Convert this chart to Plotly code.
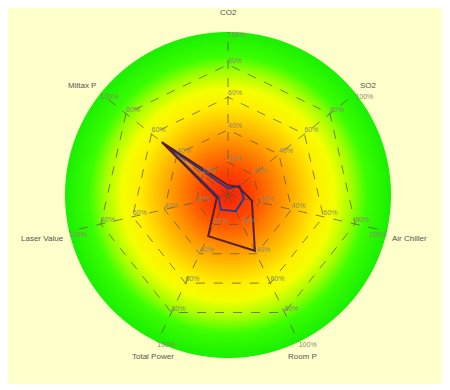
import base64, struct, zlib
import numpy as np
import plotly.graph_objects as go

# ---------------- data ----------------
axes_labels = ["CO2", "SO2", "Air Chiller", "Room P", "Total Power", "Laser Value", "Miltax P"]
series_a = [0.06, 0.08, 0.15, 0.38, 0.28, 0.07, 0.52]   # dark red-brown
series_b = [0.04, 0.09, 0.10, 0.11, 0.10, 0.06, 0.49]   # navy blue
tick_values = [0.2, 0.4, 0.6, 0.8, 1.0]
tick_labels = ["20%", "40%", "60%", "80%", "100%"]

# ---------------- layout geometry ----------------
W, H = 435, 376
L, T, S = 57, 24, 326
R_M = W - L - S
B_M = H - T - S

# ---------------- background image (radial gradient disc) ----------------
def make_png(rgb):
    h, w, _ = rgb.shape
    raw = b"".join(b"\x00" + rgb[y].tobytes() for y in range(h))
    def chunk(tag, data):
        c = struct.pack(">I", len(data)) + tag + data
        return c + struct.pack(">I", zlib.crc32(tag + data) & 0xFFFFFFFF)
    png = b"\x89PNG\r\n\x1a\n"
    png += chunk(b"IHDR", struct.pack(">IIBBBBB", w, h, 8, 2, 0, 0, 0))
    png += chunk(b"IDAT", zlib.compress(raw, 9))
    png += chunk(b"IEND", b"")
    return "data:image/png;base64," + base64.b64encode(png).decode()

yy, xx = np.mgrid[0:H, 0:W].astype(float)
yellow = np.array([255, 255, 204], float)
img = np.empty((H, W, 3), float)
img[:] = yellow

cx, cy, rad = L + S / 2, T + S / 2, S / 2
d = np.sqrt((xx + 0.5 - cx) ** 2 + (yy + 0.5 - cy) ** 2)
f = np.clip(d / rad, 0, 1)
stops = [0.0, 0.15, 0.3, 0.45, 0.55, 0.65, 0.75, 0.85, 1.0]
cols = np.array([
    [250, 30, 10], [255, 70, 0], [255, 135, 0], [255, 200, 0], [255, 240, 0],
    [245, 255, 0], [170, 255, 0], [60, 255, 0], [25, 240, 0]], float)
grad = np.stack([np.interp(f, stops, cols[:, k]) for k in range(3)], axis=-1)
alpha = np.clip(rad - d + 0.5, 0, 1)[..., None]
img = grad * alpha + img * (1 - alpha)
src = make_png(np.clip(img, 0, 255).astype(np.uint8))

# ---------------- figure ----------------
fig = go.Figure()
n = len(axes_labels)

theta_closed = axes_labels + [axes_labels[0]]
fig.add_trace(go.Scatterpolar(
    r=series_b + [series_b[0]], theta=theta_closed, mode="lines",
    line=dict(color="#2b3a8c", width=2), showlegend=False, hoverinfo="skip"))
fig.add_trace(go.Scatterpolar(
    r=series_a + [series_a[0]], theta=theta_closed, mode="lines",
    line=dict(color="#5a1e2a", width=2), showlegend=False, hoverinfo="skip"))

# per-spoke percentage labels
lab_r, lab_t, lab_s, lab_p = [], [], [], []
for i, a in enumerate(axes_labels):
    ang_deg = i * 360 / n
    for v, s in zip(tick_values, tick_labels):
        lab_r.append(v)
        lab_t.append(a)
        lab_s.append(s)
        if v >= 1.0:
            lab_p.append("bottom left" if 60 < ang_deg < 150 else "bottom right")
        else:
            lab_p.append("top right")
fig.add_trace(go.Scatterpolar(
    r=lab_r, theta=lab_t, text=lab_s, mode="text", textposition=lab_p,
    textfont=dict(size=7, color="#8a8a6a", family="Liberation Sans"),
    showlegend=False, hoverinfo="skip", cliponaxis=False))

# axis name labels placed just outside the disc
annotations = []
for i, name in enumerate(axes_labels):
    ang_deg = i * 360 / n
    ang = np.deg2rad(90 - ang_deg)
    c, s_ = np.cos(ang), np.sin(ang)
    if ang_deg == 0:
        rr, xa, ya = 176, "center", "bottom"
    elif s_ < -0.8:
        rr, xa, ya = 172, "center", "top"
    elif s_ < 0:
        rr, xa, ya = 166, ("left" if c > 0 else "right"), "top"
    else:
        rr, xa, ya = 166, ("left" if c > 0 else "right"), "bottom"
    annotations.append(dict(
        x=0.5 + rr / S * c, y=0.5 + rr / S * s_,
        xref="paper", yref="paper", text=name, showarrow=False,
        xanchor=xa, yanchor=ya,
        font=dict(size=8, color="#555555", family="Liberation Sans")))

fig.update_layout(
    width=W, height=H,
    margin=dict(l=L, r=R_M, t=T, b=B_M),
    paper_bgcolor="#FFFFCC",
    annotations=annotations,
    images=[dict(source=src, xref="paper", yref="paper",
                 x=-L / S, y=1 + T / S, sizex=W / S, sizey=H / S,
                 xanchor="left", yanchor="top", sizing="stretch", layer="below")],
    polar=dict(
        domain=dict(x=[0, 1], y=[0, 1]),
        bgcolor="rgba(0,0,0,0)",
        gridshape="linear",
        radialaxis=dict(range=[0, 1], tickvals=tick_values, showticklabels=False,
                        showline=False, ticks="", gridcolor="rgba(90,90,40,0.75)",
                        griddash="dash", gridwidth=1),
        angularaxis=dict(direction="clockwise", rotation=90, showline=False,
                         ticks="", showticklabels=False,
                         gridcolor="rgba(90,90,40,0.75)", griddash="dash"),
    ),
)

fig.write_html("out.html")
